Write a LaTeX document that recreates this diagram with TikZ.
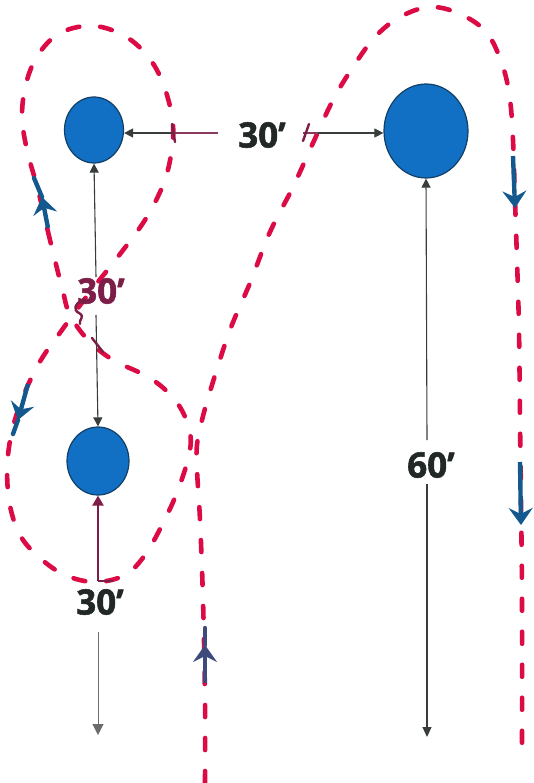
\documentclass[tikz,border=0pt]{standalone}
\usepackage{fontspec}
\setmainfont{Open Sans}
\newfontfamily\lblfont{Open Sans}[UprightFont=* Bold, UprightFeatures={FakeBold=1.6}]
\usetikzlibrary{shapes.geometric,arrows.meta}
\definecolor{rd}{HTML}{DC0A45}
\definecolor{ballblue}{HTML}{1170C4}
\definecolor{balledge}{HTML}{123F66}
\definecolor{arrblue}{HTML}{14598E}
\definecolor{navy}{HTML}{3D4B7C}
\definecolor{purp}{HTML}{7C1E48}
\definecolor{purpl}{HTML}{8A3A5E}
\definecolor{ink}{HTML}{222826}
\definecolor{gry}{HTML}{6A6C6A}
\begin{document}
\begin{tikzpicture}[x=1pt,y=-1pt,
  ball/.style={ellipse,fill=ballblue,draw=balledge,line width=1.2pt,inner sep=0pt},
  lbl/.style={font=\lblfont\fontsize{35}{35}\selectfont,text=ink,inner sep=0pt},
  blk/.style={draw=ink!90,line width=1.1pt,-{Triangle[length=9pt,width=9pt]}},
  plain/.style={draw=ink!90,line width=1.1pt},
  purpline/.style={draw=purpl,line width=1.3pt},
  tickmark/.style={draw=purp,line width=2.4pt,line cap=round},
  reddash/.style={draw=rd,line width=4.6pt,line cap=round,dash pattern=on 12pt off 21pt},
  barrow/.style={draw=arrblue,line width=4.4pt,-{Stealth[length=17pt,width=24pt,inset=6pt]}},
  bline/.style={draw=arrblue,line width=4.4pt,line cap=round},
]
\useasboundingbox (0,0) rectangle (533,783);

% red dashed paths
\draw[reddash] plot[smooth cycle, tension=0.6] coordinates {
 (63,292) (50,240) (38,190) (27,150) (22,115) (27,80) (40,52) (62,32) (95,26)
 (128,38) (152,62) (166,92) (173,125) (171,155) (163,185) (145,220) (117,258)
 (90,292) (62,330) (38,365) (18,410) (8,455) (9,500) (20,535) (40,558) (65,575)
 (95,582) (125,575) (145,555) (162,525) (178,490) (190,450) (188,425) (175,400)
 (150,378) (113,360) (88,340) (70,315)};
\draw[reddash] plot[smooth, tension=0.6] coordinates {
 (205,783) (205,700) (203,600) (200,520) (197,470) (197,445) (202,420) (212,385)
 (230,330) (250,283) (270,232) (293,187) (313,143) (333,100) (353,67) (375,37)
 (400,17) (430,7) (460,14) (487,33) (503,67) (510,100) (513,140) (515,200)
 (517,260) (519,330) (520,420) (521,500) (522,600) (522,758)};

% balls
\node[ball,minimum width=59pt,minimum height=66pt] (A) at (94,130) {};
\node[ball,minimum width=84pt,minimum height=94pt] (B) at (426,131) {};
\node[ball,minimum width=62pt,minimum height=68pt] (C) at (98,461) {};

% labels
\node[lbl] (L1) at (262,135) {30’};
\node[lbl,text=purp] (L2) at (101,291) {30’};
\node[lbl] (L3) at (100,602) {30’};
\node[lbl] (L4) at (431,465) {60’};

% top horizontal connectors
\coordinate (h1) at (218,133);
\coordinate (hk1) at (174,133);
\coordinate (h2) at (303,133);
\coordinate (hk2) at (318,133);
\draw[purpline] (h1) -- (hk1);
\draw[blk] (hk1) -- (A.east |- hk1);
\draw[purpline] (h2) -- (hk2);
\draw[blk] (hk2) -- (B.west |- hk2);
\draw[tickmark] (172,124) -- (175,142);
\draw[tickmark] (309,124) -- (303,141);

% vertical between A and C
\coordinate (v1) at (96,277);
\coordinate (v2) at (96,315);
\draw[blk] (v1) -- (A.south);
\draw[blk] (v2) -- (C.north);
\draw[tickmark] (92,338) -- (103,352);
\draw[tickmark] (84,299) .. controls (74,304) and (73,310) .. (79,313)
  .. controls (86,317) and (78,320) .. (80,324);

% below C
\coordinate (p1) at (98,581);
\coordinate (p2) at (113,581);
\draw[draw=purp,line width=2.2pt,-{Triangle[length=10pt,width=11pt]}] (p1) -- (C.south);
\draw[draw=purp,line width=2.2pt] (p1) -- (p2);
\coordinate (g1) at (98,632);
\coordinate (g2) at (98,735);
\draw[draw=gry,line width=1pt,-{Triangle[length=11pt,width=11pt]}] (g1) -- (g2);

% right vertical
\coordinate (r1) at (427,440);
\coordinate (r2) at (427,484);
\coordinate (r3) at (427,737);
\draw[blk] (r1) -- (B.south);
\draw[plain,-{Triangle[length=10pt,width=9pt]}] (r2) -- (r3);

% direction arrows on paths
\coordinate (a1s) at (48,228); \coordinate (a1t) at (42,197); \coordinate (a1e) at (34,178);
\draw[barrow] (a1s) -- (a1t);
\draw[bline] (a1t) -- (a1e);
\coordinate (a2s) at (28,384); \coordinate (a2t) at (18,420); \coordinate (a2e) at (13,434);
\draw[barrow] (a2s) -- (a2t);
\draw[bline] (a2t) -- (a2e);
\coordinate (a3s) at (513,156); \coordinate (a3t) at (515,208);
\draw[barrow] (a3s) -- (a3t);
\coordinate (a4s) at (520,462); \coordinate (a4t) at (521,525);
\draw[barrow] (a4s) -- (a4t);
\coordinate (a5s) at (205,683); \coordinate (a5t) at (205,645); \coordinate (a5e) at (205,628);
\draw[barrow,draw=navy] (a5s) -- (a5t);
\draw[bline,draw=navy] (a5t) -- (a5e);
\end{tikzpicture}
\end{document}
